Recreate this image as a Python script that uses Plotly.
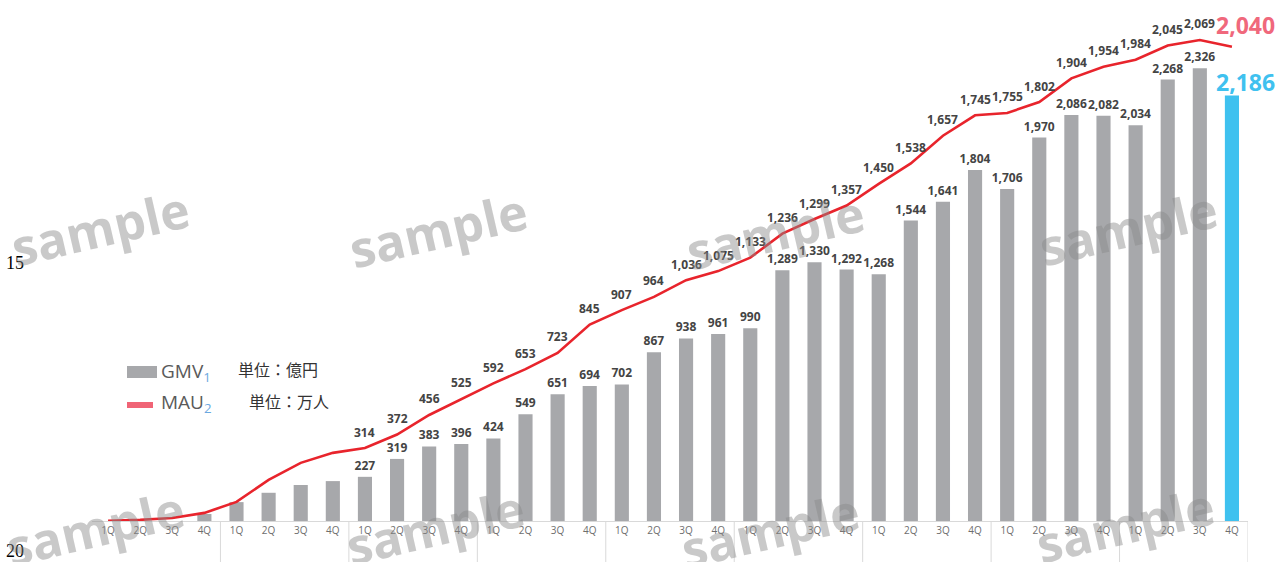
import plotly.graph_objects as go

quarters = ["1Q", "2Q", "3Q", "4Q"] * 9
gmv = [0, 0, 0, 36, 97, 145, 185, 205, 227, 319, 383, 396, 424, 549, 651, 694,
       702, 867, 938, 961, 990, 1289, 1330, 1292, 1268, 1544, 1641, 1804, 1706,
       1970, 2086, 2082, 2034, 2268, 2326, 2186]
gmv_labeled_from = 8
mau = [1, 5, 13, 35, 82, 177, 250, 293, 314, 372, 456, 525, 592, 653, 723, 845,
       907, 964, 1036, 1075, 1133, 1236, 1299, 1357, 1450, 1538, 1657, 1745, 1755,
       1802, 1904, 1954, 1984, 2045, 2069, 2040]
mau_labeled_from = 8

n = len(quarters)
xs = list(range(n))

bar_colors = ["#a7a8ab"] * (n - 1) + ["#3fc1ef"]
gmv_text = [f"{v:,}" if gmv_labeled_from <= i < n - 1 else "" for i, v in enumerate(gmv)]

fig = go.Figure()
fig.add_trace(go.Bar(
    x=xs, y=gmv, marker=dict(color=bar_colors, line=dict(width=0)),
    text=gmv_text, textposition="outside", cliponaxis=False, constraintext="none",
    textfont=dict(family="Open Sans", size=12, color="#444444", weight="bold"),
    yaxis="y", showlegend=False,
))
fig.add_trace(go.Scatter(
    x=xs, y=mau, mode="lines",
    line=dict(color="#e8242c", width=2.6), cliponaxis=False,
    yaxis="y2", showlegend=False,
))

W, H = 1288, 562
L, R, T, B = 92, 40, 0, 41
pw, ph = W - L - R, H - T - B


def px(xp):
    return (xp - L) / pw


def py(yp):
    return (H - B - yp) / ph


annotations = []
shapes = []

# MAU data labels
for i in range(mau_labeled_from, n - 1):
    annotations.append(dict(x=xs[i], y=mau[i], xref="x", yref="y2", text=f"{mau[i]:,}",
                            showarrow=False, yshift=16, xanchor="center", yanchor="middle",
                            font=dict(family="Open Sans", size=12, color="#444444", weight="bold")))

# highlighted final values
annotations.append(dict(x=xs[-1], y=mau[-1], xref="x", yref="y2", text=f"{mau[-1]:,}",
                        showarrow=False, xshift=14, yshift=22,
                        font=dict(family="Open Sans", size=23, color="#f0687c", weight="bold")))
annotations.append(dict(x=xs[-1], y=gmv[-1], xref="x", yref="y", text=f"{gmv[-1]:,}",
                        showarrow=False, xshift=14, yshift=14,
                        font=dict(family="Open Sans", size=23, color="#3fc1ef", weight="bold")))

# group separators
for k in range(1, 10):
    xv = 4 * k - 0.5
    shapes.append(dict(type="line", xref="x", yref="paper", x0=xv, x1=xv, y0=0, y1=py(562),
                       line=dict(color="#d9d9d9", width=1)))

# legend glyphs
shapes.append(dict(type="rect", xref="paper", yref="paper", x0=px(127), x1=px(157),
                   y0=py(378), y1=py(366), fillcolor="#a7a8ab", line=dict(width=0)))
shapes.append(dict(type="line", xref="paper", yref="paper", x0=px(127), x1=px(153),
                   y0=py(405), y1=py(405), line=dict(color="#f06476", width=6)))
annotations.append(dict(x=px(159), y=py(372), xref="paper", yref="paper", xanchor="left",
                        yanchor="middle",
                        text="GMV<sub><span style='color:#6aa8e0'>1</span></sub>", showarrow=False,
                        font=dict(family="Open Sans", size=19, color="#5a5a5a")))
annotations.append(dict(x=px(236), y=py(369), xref="paper", yref="paper", xanchor="left",
                        yanchor="middle",
                        text="単位：億円", showarrow=False,
                        font=dict(family="Noto Sans CJK JP", size=16, color="#333333")))
annotations.append(dict(x=px(159), y=py(403), xref="paper", yref="paper", xanchor="left",
                        yanchor="middle",
                        text="MAU<sub><span style='color:#6aa8e0'>2</span></sub>", showarrow=False,
                        font=dict(family="Open Sans", size=19, color="#5a5a5a")))
annotations.append(dict(x=px(247), y=py(401), xref="paper", yref="paper", xanchor="left",
                        yanchor="middle",
                        text="単位：万人", showarrow=False,
                        font=dict(family="Noto Sans CJK JP", size=16, color="#333333")))

# stray labels on the left
for label, yy in [("15", 263), ("20", 551)]:
    annotations.append(dict(x=px(4), y=py(yy), xref="paper", yref="paper", xanchor="left",
                            yanchor="middle", text=label, showarrow=False,
                            font=dict(family="Liberation Serif", size=18, color="#000000")))

# watermarks
for cx, cy in [(100, 228), (438, 230), (775, 232), (1128, 228),
               (95, 528), (435, 527), (770, 530), (1125, 525)]:
    annotations.append(dict(x=px(cx), y=py(cy), xref="paper", yref="paper", text="sample",
                            xanchor="center", yanchor="middle",
                            showarrow=False, textangle=-13, opacity=0.45,
                            font=dict(family="Open Sans", size=50, color="#8a8a8a", weight="bold")))

fig.update_layout(
    width=W, height=H,
    margin=dict(l=L, r=R, t=T, b=B),
    paper_bgcolor="white", plot_bgcolor="white",
    bargap=0.56,
    xaxis=dict(range=[-0.5, n - 0.5], tickmode="array", tickvals=xs, ticktext=quarters,
               showgrid=False, zeroline=False, showline=True, linecolor="#d9d9d9",
               linewidth=1, ticks="", tickfont=dict(family="Open Sans", size=10, color="#6e6e6e")),
    yaxis=dict(range=[0, 2677], visible=False),
    yaxis2=dict(range=[0, 2241], visible=False, overlaying="y"),
    annotations=annotations, shapes=shapes,
)

fig.write_html("out.html")
